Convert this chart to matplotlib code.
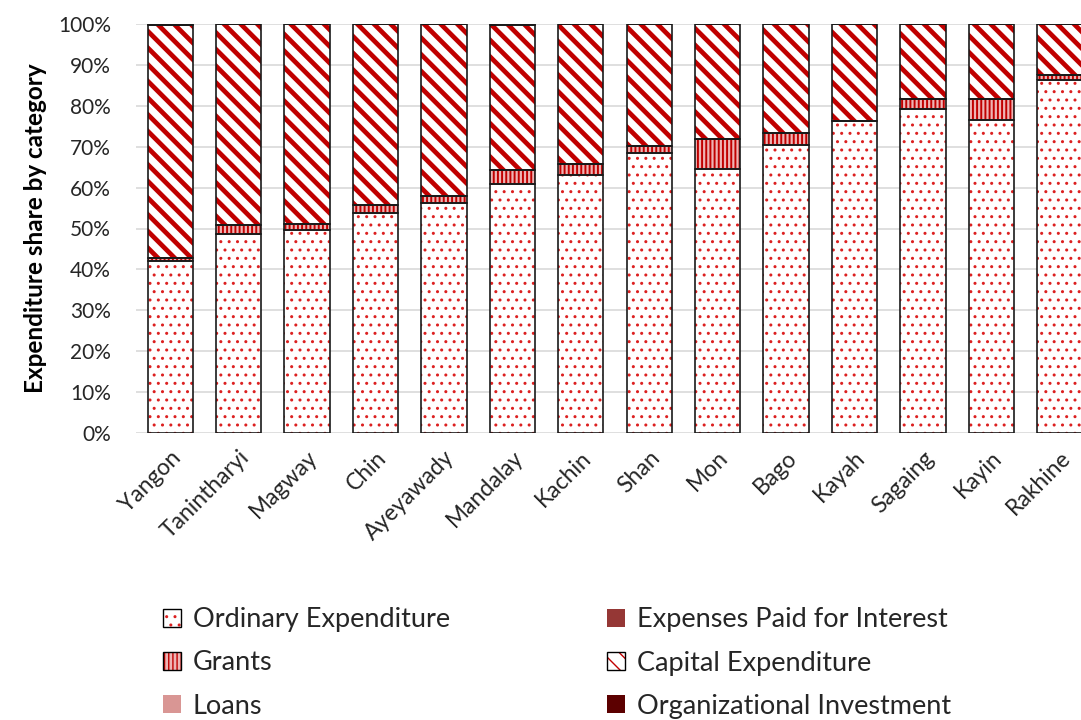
import matplotlib
matplotlib.use("Agg")
import matplotlib.pyplot as plt
import numpy as np
from matplotlib.patches import Patch
from matplotlib.legend_handler import HandlerTuple
from matplotlib.ticker import PercentFormatter

plt.rcParams['font.family'] = ['Lato', 'DejaVu Sans']

regions = ["Yangon", "Tanintharyi", "Magway", "Chin", "Ayeyawady", "Mandalay", "Kachin",
           "Shan", "Mon", "Bago", "Kayah", "Sagaing", "Kayin", "Rakhine"]
ordinary = [42.0, 48.7, 49.7, 53.7, 56.2, 60.9, 63.2, 68.4, 64.5, 70.3, 76.3, 79.2, 76.6, 86.2]
grants = [0.7, 2.1, 1.4, 2.0, 1.8, 3.3, 2.6, 1.7, 7.5, 3.0, 0.1, 2.4, 5.0, 1.3]
interest = [0.0, 0.0, 0.0, 0.0, 0.0, 0.0, 0.0, 0.0, 0.0, 0.0, 0.0, 0.0, 0.0, 0.0]
capital = [57.0, 49.2, 48.9, 44.3, 42.0, 35.5, 34.2, 29.9, 28.0, 26.7, 23.6, 18.4, 18.4, 12.5]
loans = [0.0, 0.0, 0.0, 0.0, 0.0, 0.3, 0.0, 0.0, 0.0, 0.0, 0.0, 0.0, 0.0, 0.0]
org_invest = [0.3, 0.0, 0.0, 0.0, 0.0, 0.0, 0.0, 0.0, 0.0, 0.0, 0.0, 0.0, 0.0, 0.0]

series = [
    ("Ordinary Expenditure", ordinary, dict(facecolor="white", hatchcol="#dc2020", hatch="..", hlw=1.0)),
    ("Grants", grants, dict(facecolor="#eeb4b4", hatchcol="#c00000", hatch="||||", hlw=1.4)),
    ("Expenses Paid for Interest", interest, dict(facecolor="#953735", hatchcol=None, hatch=None, hlw=1.0)),
    ("Capital Expenditure", capital, dict(facecolor="white", hatchcol="#c00000", hatch="\\\\", hlw=3.4)),
    ("Loans", loans, dict(facecolor="#d99694", hatchcol=None, hatch=None, hlw=1.0)),
    ("Organizational Investment", org_invest, dict(facecolor="#5c0000", hatchcol=None, hatch=None, hlw=1.0)),
]

W, H = 1081, 720
fig = plt.figure(figsize=(W / 100, H / 100), dpi=100)
left, right, bottom, top = 136, 1094, 433, 24
ax = fig.add_axes([left / W, (H - bottom) / H, (right - left) / W, (bottom - top) / H])

x = np.arange(len(regions))
bw = 0.66
base = np.zeros(len(regions))
handles = {}
for name, vals, st in series:
    vals = np.array(vals, dtype=float)
    with plt.rc_context({'hatch.linewidth': st["hlw"]}):
        if st["hatch"]:
            bars = ax.bar(x, vals, bw, bottom=base, color=st["facecolor"], edgecolor=st["hatchcol"],
                          hatch=st["hatch"], linewidth=0, zorder=2)
            h1 = Patch(facecolor=st["facecolor"], edgecolor=st["hatchcol"], hatch=st["hatch"], linewidth=0)
            for b in list(bars) + [h1]:
                if hasattr(b, "set_hatch_linewidth"):
                    b.set_hatch_linewidth(st["hlw"])
            h2 = Patch(fill=False, edgecolor="black", linewidth=1.0)
            handles[name] = (h1, h2)
        else:
            ax.bar(x, vals, bw, bottom=base, color=st["facecolor"], linewidth=0, zorder=2)
            handles[name] = Patch(facecolor=st["facecolor"], linewidth=0)
    ax.bar(x, vals, bw, bottom=base, fill=False, edgecolor="#1a1a1a", linewidth=1.2, zorder=3)
    base += vals

ax.set_ylim(0, 100)
ax.set_xlim(-0.5, len(regions) - 0.5)
ax.yaxis.set_major_formatter(PercentFormatter(decimals=0))
ax.set_yticks(np.arange(0, 101, 10))
ax.grid(axis="y", color="#d9d9d9", linewidth=1.2, zorder=0)
ax.set_axisbelow(True)
for s in ax.spines.values():
    s.set_visible(False)
ax.tick_params(axis="both", length=0, colors="#262626")
ax.tick_params(axis="y", pad=18, labelsize=15)
ax.set_xticks(x)
ax.set_xticklabels(regions, rotation=45, ha="right", rotation_mode="anchor")
ax.tick_params(axis="x", pad=10, labelsize=16.5)
ax.set_ylabel("Expenditure share by category", fontsize=17.5, fontweight="bold", labelpad=8)

leg_order = ["Ordinary Expenditure", "Grants", "Loans",
             "Expenses Paid for Interest", "Capital Expenditure", "Organizational Investment"]
leg = fig.legend([handles[n] for n in leg_order], leg_order, ncol=2, loc="center",
                 bbox_to_anchor=(557 / W, (H - 663) / H), frameon=False, fontsize=19.5,
                 handler_map={tuple: HandlerTuple(ndivide=1)},
                 handlelength=0.65, handleheight=0.65, handletextpad=0.45,
                 columnspacing=5.8, labelspacing=0.68)
for t in leg.get_texts():
    t.set_color("#262626")

fig.savefig("out.png", dpi=100)
